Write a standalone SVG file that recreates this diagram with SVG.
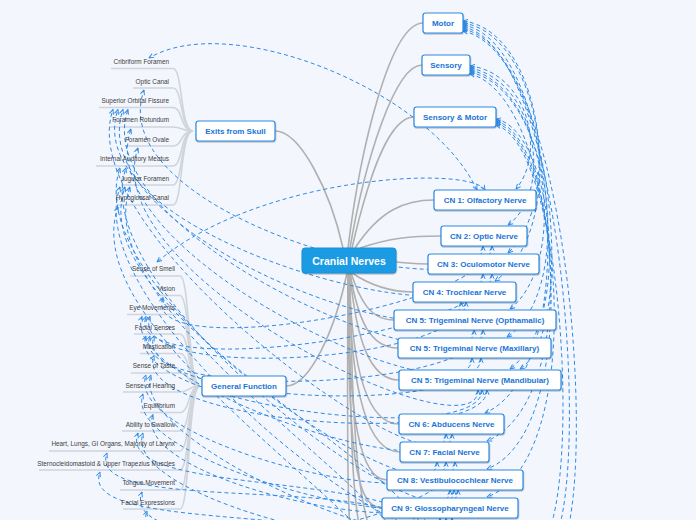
<svg xmlns="http://www.w3.org/2000/svg" width="696" height="520" viewBox="0 0 696 520">
<defs>
<marker id="a" viewBox="0 0 10 10" refX="9" refY="5" markerWidth="6" markerHeight="6" orient="auto-start-reverse" markerUnits="userSpaceOnUse">
<path d="M1,1.5 L9,5 L1,8.5" fill="none" stroke="#2e8ae6" stroke-width="1.6"/>
</marker>
<filter id="sh" x="-10%" y="-20%" width="120%" height="150%">
<feDropShadow dx="0.4" dy="1" stdDeviation="0.6" flood-color="#000" flood-opacity="0.3"/>
</filter>
<style>
.n rect{fill:#fff;stroke:#2d8ae3;stroke-width:1.2;filter:url(#sh)}
.n text{font-family:"Liberation Sans",Arial,sans-serif;font-weight:bold;font-size:8px;fill:#1a74d6;text-anchor:middle}
.c rect{fill:#1e9be5;stroke:#1a8fd6;stroke-width:1;filter:url(#sh)}
.c text{font-family:"Liberation Sans",Arial,sans-serif;font-weight:bold;font-size:10.5px;fill:#fff;text-anchor:middle}
.l text{font-family:"Liberation Sans",Arial,sans-serif;font-size:6.4px;fill:#3d3d3d;text-anchor:end}
.g{fill:none;stroke:#b0b0b0;stroke-width:1.6}
.u{fill:none;stroke:#d0d4db;stroke-width:1.6}
.d{fill:none;stroke:#2e8ae6;stroke-width:1;stroke-dasharray:4 3;marker-start:url(#a);marker-end:url(#a)}
</style>
</defs>
<rect x="0" y="0" width="696" height="520" fill="#f3f6fd"/>
<g id="connectors">
<path class="u" d="M111,68.5 H173 C183,68.5 180,131 193,131"/>
<path class="u" d="M133,88 H173 C183,88 180,131 193,131"/>
<path class="u" d="M99,107.5 H173 C183,107.5 180,131 193,131"/>
<path class="u" d="M110,127 H173 C183,127 180,131 193,131"/>
<path class="u" d="M125,146 H173 C183,146 180,131 193,131"/>
<path class="u" d="M96,166 H173 C183,166 180,131 193,131"/>
<path class="u" d="M121,185 H173 C183,185 180,131 193,131"/>
<path class="u" d="M117,205 H173 C183,205 180,131 193,131"/>
<path class="u" d="M130,276 H180 C190,276 188,386 200,386"/>
<path class="u" d="M157,295.5 H180 C190,295.5 188,386 200,386"/>
<path class="u" d="M127,314.5 H180 C190,314.5 188,386 200,386"/>
<path class="u" d="M134,334 H180 C190,334 188,386 200,386"/>
<path class="u" d="M140,353.5 H180 C190,353.5 188,386 200,386"/>
<path class="u" d="M131,373 H180 C190,373 188,386 200,386"/>
<path class="u" d="M123,392 H180 C190,392 188,386 200,386"/>
<path class="u" d="M140,412.5 H180 C190,412.5 188,386 200,386"/>
<path class="u" d="M122,431 H180 C190,431 188,386 200,386"/>
<path class="u" d="M49,451 H180 C190,451 188,386 200,386"/>
<path class="u" d="M39,470 H180 C190,470 188,386 200,386"/>
<path class="u" d="M120,490 H180 C190,490 188,386 200,386"/>
<path class="u" d="M123,509 H180 C190,509 188,386 200,386"/>
<path class="g" d="M275,131 C300,131 330,190 343,248"/>
<path class="g" d="M286,386 C310,386 335,330 347,273"/>
<path class="g" d="M348,248 C360,150 390,23 423,23"/>
<path class="g" d="M350,248 C365,160 395,65 422,65"/>
<path class="g" d="M352,248 C370,170 390,117 414,117"/>
<path class="g" d="M355,248 C380,210 405,200 434,200"/>
<path class="g" d="M360,248 C390,238 410,236 441,236"/>
<path class="g" d="M396,262 C410,263 415,264 428,264"/>
<path class="g" d="M352,273 C370,285 390,292 413,292"/>
<path class="g" d="M351,273 C360,300 370,320 394,320"/>
<path class="g" d="M350,273 C358,320 370,348 398,348"/>
<path class="g" d="M350,273 C356,340 370,380 399,380"/>
<path class="g" d="M349,273 C352,380 370,424 399,424"/>
<path class="g" d="M349,273 C350,400 370,452 400,452"/>
<path class="g" d="M348,273 C348,420 360,480 387,480"/>
<path class="g" d="M348,273 C348,450 355,508 382,508"/>
<path class="g" d="M348,273 C347,460 348,500 350,530"/>
<path class="g" d="M349,273 C350,460 354,500 360,530"/>
<path class="g" d="M350,273 C352,450 360,500 370,530"/>
<path class="d" d="M470,66 C525,72 548,150 516,189"/>
<path class="d" d="M470,68 C535,80 555,190 508,225"/>
<path class="d" d="M463,21 C540,30 565,200 508,253"/>
<path class="d" d="M463,23 C545,35 570,230 495,281"/>
<path class="d" d="M470,70 C545,85 572,260 510,309"/>
<path class="d" d="M470,72 C552,90 577,290 507,337"/>
<path class="d" d="M496,119 C552,130 575,320 510,369"/>
<path class="d" d="M463,31 C552,50 580,330 520,369"/>
<path class="d" d="M463,25 C557,40 585,370 485,413"/>
<path class="d" d="M496,121 C557,135 583,400 487,441"/>
<path class="d" d="M470,74 C560,95 588,430 487,469"/>
<path class="d" d="M496,123 C562,140 588,460 487,497"/>
<path class="d" d="M496,125 C564,145 580,480 545,540"/>
<path class="d" d="M463,27 C562,45 590,460 555,540"/>
<path class="d" d="M463,29 C567,50 595,450 565,540"/>
<path class="d" d="M477,190 C430,90 230,10 149,58"/>
<path class="d" d="M485,190 C470,165 260,175 157,262"/>
<path class="d" d="M483,246 C483,316 99,218 144,90"/>
<path class="d" d="M492,246 C492,306 138,365.5 163,297.5"/>
<path class="d" d="M483,274 C483,344 73,237.5 118,109.5"/>
<path class="d" d="M492,274 C492,334 121,384.5 146,316.5"/>
<path class="d" d="M461,302 C461,372 78,237.5 123,109.5"/>
<path class="d" d="M466,302 C466,362 125,384.5 150,316.5"/>
<path class="d" d="M474,330 C474,400 83,237.5 128,109.5"/>
<path class="d" d="M483,330 C483,390 125,404 150,336"/>
<path class="d" d="M472,358 C472,428 86,257 131,129"/>
<path class="d" d="M481,358 C481,418 129,404 154,336"/>
<path class="d" d="M478,390 C478,460 93,276 138,148"/>
<path class="d" d="M487,390 C487,450 129,423.5 154,355.5"/>
<path class="d" d="M482,390 C482,450 121,404 146,336"/>
<path class="d" d="M446,434 C446,504 68,237.5 113,109.5"/>
<path class="d" d="M452,434 C452,494 117,384.5 142,316.5"/>
<path class="d" d="M437,462 C437,532 75,296 120,168"/>
<path class="d" d="M446,462 C446,522 121,443 146,375"/>
<path class="d" d="M455,462 C455,522 122,579 147,511"/>
<path class="d" d="M450,490 C450,560 81,296 126,168"/>
<path class="d" d="M458,490 C458,550 118,462 143,394"/>
<path class="d" d="M454,490 C454,550 128,482.5 153,414.5"/>
<path class="d" d="M440,518 C440,588 75,315 120,187"/>
<path class="d" d="M446,518 C446,578 126,443 151,375"/>
<path class="d" d="M452,518 C452,578 118,501 143,433"/>
<path class="d" d="M430,545 C420,465 80,315 125,187"/>
<path class="d" d="M436,545 C426,465 82,521 107,453"/>
<path class="d" d="M442,545 C432,465 113,501 138,433"/>
<path class="d" d="M420,575 C410,495 85,315 130,187"/>
<path class="d" d="M426,575 C416,495 75,540 100,472"/>
<path class="d" d="M410,600 C400,520 73,335 118,207"/>
<path class="d" d="M416,600 C406,520 117,560 142,492"/>
</g>
<g id="leaf-cribriform" class="l"><text x="169" y="64">Cribriform Foramen</text></g>
<g id="leaf-optic-canal" class="l"><text x="169" y="83.5">Optic Canal</text></g>
<g id="leaf-sof" class="l"><text x="169" y="102.5">Superior Orbital Fissure</text></g>
<g id="leaf-rotundum" class="l"><text x="169" y="122">Foramen Rotundum</text></g>
<g id="leaf-ovale" class="l"><text x="169" y="141.5">Foramen Ovale</text></g>
<g id="leaf-iam" class="l"><text x="169" y="161">Internal Auditory Meatus</text></g>
<g id="leaf-jugular" class="l"><text x="169" y="180.5">Jugular Foramen</text></g>
<g id="leaf-hypoglossal" class="l"><text x="169" y="200">Hypoglossal Canal</text></g>
<g id="leaf-smell" class="l"><text x="175" y="271">Sense of Smell</text></g>
<g id="leaf-vision" class="l"><text x="175" y="290.5">Vision</text></g>
<g id="leaf-eye" class="l"><text x="175" y="310">Eye Movements</text></g>
<g id="leaf-facial-senses" class="l"><text x="175" y="329.5">Facial Senses</text></g>
<g id="leaf-mastication" class="l"><text x="175" y="348.5">Mastication</text></g>
<g id="leaf-taste" class="l"><text x="175" y="368">Sense of Taste</text></g>
<g id="leaf-hearing" class="l"><text x="175" y="387.5">Sense of Hearing</text></g>
<g id="leaf-equilibrium" class="l"><text x="175" y="407.5">Equilibrium</text></g>
<g id="leaf-swallow" class="l"><text x="175" y="426.5">Ability to Swallow</text></g>
<g id="leaf-heart" class="l"><text x="175" y="446">Heart, Lungs, GI Organs, Majority of Larynx</text></g>
<g id="leaf-sterno" class="l"><text x="175" y="465.5">Sternocleidomastoid &amp; Upper Trapezius Muscles</text></g>
<g id="leaf-tongue" class="l"><text x="175" y="485">Tongue Movement</text></g>
<g id="leaf-facial-expr" class="l"><text x="175" y="504.5">Facial Expressions</text></g>
<g id="center" class="c"><rect x="302" y="248" width="94" height="25" rx="3"/><text x="349" y="264.5">Cranial Nerves</text></g>
<g id="exits" class="n"><rect x="196" y="121" width="79" height="20" rx="2.5"/><text x="235.5" y="134">Exits from Skull</text></g>
<g id="general" class="n"><rect x="202" y="376" width="84" height="20" rx="2.5"/><text x="244" y="389">General Function</text></g>
<g id="motor" class="n"><rect x="423" y="13" width="40" height="20" rx="2.5"/><text x="443" y="26">Motor</text></g>
<g id="sensory" class="n"><rect x="422" y="55" width="48" height="20" rx="2.5"/><text x="446" y="68">Sensory</text></g>
<g id="sensory-motor" class="n"><rect x="414" y="107" width="82" height="20" rx="2.5"/><text x="455" y="120">Sensory &amp; Motor</text></g>
<g id="cn1" class="n"><rect x="434" y="190" width="102" height="20" rx="2.5"/><text x="485" y="203">CN 1: Olfactory Nerve</text></g>
<g id="cn2" class="n"><rect x="441" y="226" width="86" height="20" rx="2.5"/><text x="484" y="239">CN 2: Optic Nerve</text></g>
<g id="cn3" class="n"><rect x="428" y="254" width="111" height="20" rx="2.5"/><text x="483.5" y="267">CN 3: Oculomotor Nerve</text></g>
<g id="cn4" class="n"><rect x="413" y="282" width="103" height="20" rx="2.5"/><text x="464.5" y="295">CN 4: Trochlear Nerve</text></g>
<g id="cn5o" class="n"><rect x="394" y="310" width="162" height="20" rx="2.5"/><text x="475" y="323">CN 5: Trigeminal Nerve (Opthamalic)</text></g>
<g id="cn5x" class="n"><rect x="398" y="338" width="153" height="20" rx="2.5"/><text x="474.5" y="351">CN 5: Trigeminal Nerve (Maxillary)</text></g>
<g id="cn5m" class="n"><rect x="399" y="370" width="162" height="20" rx="2.5"/><text x="480" y="383">CN 5: Trigeminal Nerve (Mandibular)</text></g>
<g id="cn6" class="n"><rect x="399" y="414" width="105" height="20" rx="2.5"/><text x="451.5" y="427">CN 6: Abducens Nerve</text></g>
<g id="cn7" class="n"><rect x="400" y="442" width="89" height="20" rx="2.5"/><text x="444.5" y="455">CN 7: Facial Nerve</text></g>
<g id="cn8" class="n"><rect x="387" y="470" width="136" height="20" rx="2.5"/><text x="455" y="483">CN 8: Vestibulocochlear Nerve</text></g>
<g id="cn9" class="n"><rect x="382" y="498" width="136" height="20" rx="2.5"/><text x="450" y="511">CN 9: Glossopharyngeal Nerve</text></g>
</svg>
